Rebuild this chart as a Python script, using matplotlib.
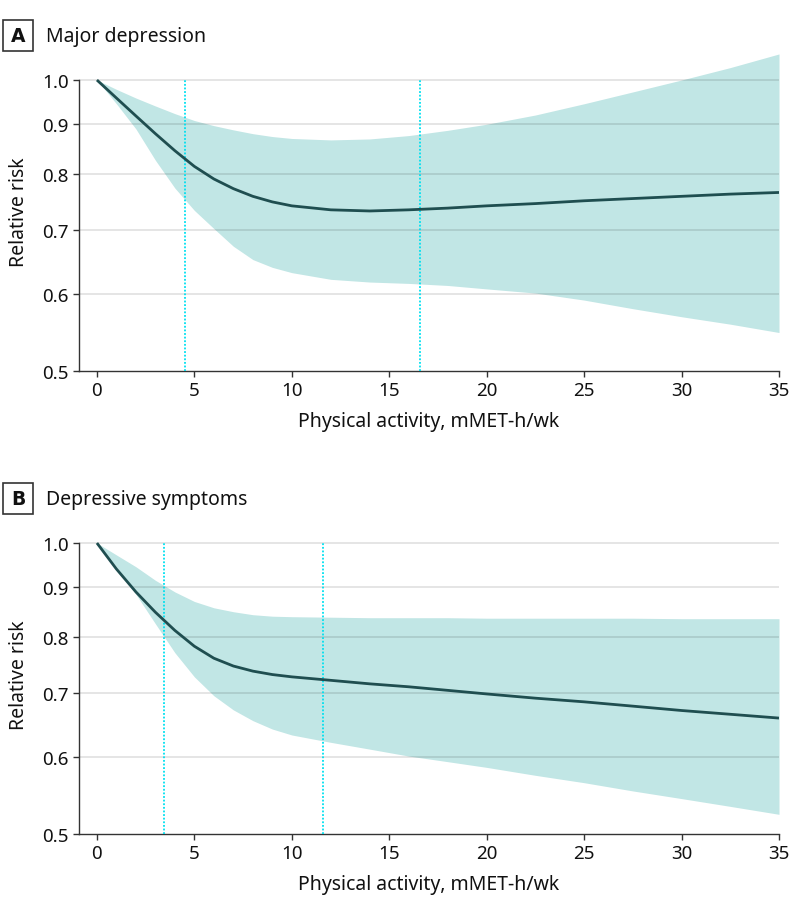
import numpy as np
import matplotlib
matplotlib.use('Agg')
import matplotlib.pyplot as plt
from matplotlib.patches import Rectangle
from matplotlib.ticker import FixedLocator, FixedFormatter, NullLocator

plt.rcParams['font.family'] = ['Noto Sans', 'DejaVu Sans']

# physical activity grid (mMET-h/wk)
x_pa = [0, 1, 2, 3, 4, 5, 6, 7, 8, 9, 10, 12, 14, 16, 18, 20, 22.5, 25, 27.5, 30, 32.5, 35]

# A: major depression
rr_major = [1.0, 0.958, 0.918, 0.880, 0.845, 0.814, 0.790, 0.772, 0.758, 0.748, 0.741,
            0.734, 0.732, 0.734, 0.737, 0.741, 0.745, 0.750, 0.754, 0.758, 0.762, 0.765]
hi_major = [1.0, 0.978, 0.958, 0.940, 0.923, 0.908, 0.897, 0.888, 0.880, 0.874, 0.870,
            0.867, 0.869, 0.876, 0.887, 0.900, 0.920, 0.945, 0.972, 1.000, 1.030, 1.064]
lo_major = [1.0, 0.945, 0.890, 0.826, 0.773, 0.733, 0.702, 0.673, 0.652, 0.640, 0.632,
            0.622, 0.618, 0.616, 0.613, 0.608, 0.602, 0.592, 0.580, 0.569, 0.559, 0.548]
ref_major = [4.5, 16.6]

# B: depressive symptoms
rr_symp = [1.0, 0.940, 0.890, 0.848, 0.812, 0.782, 0.760, 0.746, 0.737, 0.731, 0.727,
           0.721, 0.715, 0.710, 0.704, 0.698, 0.691, 0.685, 0.678, 0.671, 0.665, 0.659]
hi_symp = [1.0, 0.972, 0.945, 0.915, 0.890, 0.870, 0.857, 0.849, 0.843, 0.840, 0.839,
           0.838, 0.837, 0.837, 0.837, 0.836, 0.836, 0.836, 0.836, 0.835, 0.835, 0.835]
lo_symp = [1.0, 0.945, 0.885, 0.825, 0.770, 0.727, 0.695, 0.672, 0.655, 0.642, 0.633,
           0.622, 0.612, 0.602, 0.594, 0.586, 0.575, 0.565, 0.554, 0.544, 0.534, 0.524]
ref_symp = [3.44, 11.6]

y_ticks = [0.5, 0.6, 0.7, 0.8, 0.9, 1.0]
x_ticks = [0, 5, 10, 15, 20, 25, 30, 35]

panels = [
    ('A', 'Major depression', rr_major, lo_major, hi_major, ref_major),
    ('B', 'Depressive symptoms', rr_symp, lo_symp, hi_symp, ref_symp),
]

W, H = 794, 920
fig = plt.figure(figsize=(W / 100, H / 100), dpi=100)

band_col = '#c1e6e5'
line_col = '#1f4e50'
dot_col = '#00e0f0'
spine_col = '#333333'
txt_col = '#111111'

for i, (letter, title, rr, lo, hi, refs) in enumerate(panels):
    off = i * 463
    bottom_px = 372 + off
    ax = fig.add_axes([79 / W, 1 - bottom_px / H, 700 / W, 319.4 / H])
    ax.set_yscale('log')
    ax.set_ylim(0.5, 1.07)
    ax.set_xlim(-0.92, 35)

    ax.fill_between(x_pa, lo, hi, color=band_col, lw=0, zorder=1)
    for yv in y_ticks[1:]:
        ax.axhline(yv, color='black', alpha=0.12, lw=1.2, zorder=2)
    ax.vlines(refs, 0.5, 1.0, color=dot_col, linestyles=(0, (1, 1)), lw=1.3, zorder=3)
    ax.plot(x_pa, rr, color=line_col, lw=2.0, zorder=4, solid_capstyle='butt')

    for s in ['top', 'right']:
        ax.spines[s].set_visible(False)
    for s in ['left', 'bottom']:
        ax.spines[s].set_color(spine_col)
        ax.spines[s].set_linewidth(1.0)
    ax.spines['left'].set_bounds(0.5, 1.0)

    ax.yaxis.set_major_locator(FixedLocator(y_ticks))
    ax.yaxis.set_major_formatter(FixedFormatter(['%.1f' % v for v in y_ticks]))
    ax.yaxis.set_minor_locator(NullLocator())
    ax.set_xticks(x_ticks)
    ax.tick_params(axis='both', length=4.5, width=1.0, color=spine_col,
                   labelsize=13.5, labelcolor=txt_col, pad=3)

    ax.set_xlabel('Physical activity, mMET-h/wk', fontsize=14, color=txt_col, labelpad=8)
    ax.set_ylabel('Relative risk', fontsize=14, color=txt_col, labelpad=9)

    # panel letter box and title
    box_top = 21 + off
    fig.add_artist(Rectangle((3 / W, 1 - (box_top + 31) / H), 30 / W, 31 / H,
                             transform=fig.transFigure, fill=False, lw=1.2, ec=spine_col))
    fig.text(18 / W, 1 - (box_top + 16) / H, letter, ha='center', va='center',
             fontsize=13.5, fontweight='bold', color=txt_col,
             family=['DejaVu Sans'])
    fig.text(46 / W, 1 - (box_top + 16) / H, title, ha='left', va='center',
             fontsize=14, color=txt_col)

fig.savefig('out.png', dpi=100)
